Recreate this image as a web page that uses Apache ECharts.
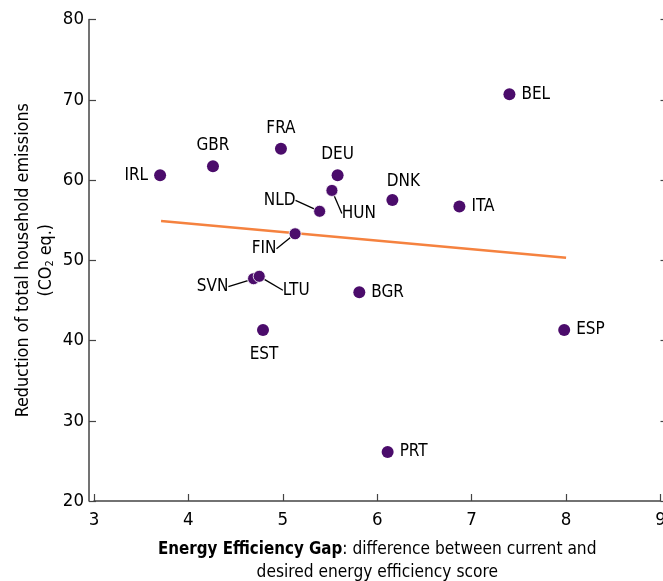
<!DOCTYPE html>
<html>
<head>
<meta charset="utf-8">
<script src="https://cdn.jsdelivr.net/npm/echarts@6/dist/echarts.min.js"></script>
<style>html,body{margin:0;padding:0;background:#fff}#c{width:663px;height:581px}</style>
</head>
<body>
<div id="c"></div>
<script>
// Data
var countries = ['BEL','IRL','GBR','FRA','DEU','DNK','ITA','BGR','EST','ESP','PRT'];
var gap       = [7.40, 3.70, 4.26, 4.98, 5.58, 6.16, 6.87, 5.81, 4.79, 7.98, 6.11];
var reduction = [70.7, 60.6, 61.7, 63.9, 60.6, 57.5, 56.7, 46.0, 41.3, 41.3, 26.1];
var labelPos  = ['right','left','top','top','top','top','right','right','bottom','right','right'];

// points labelled with leader lines
var leadCountries = ['NLD','HUN','FIN','SVN','LTU'];
var leadGap       = [5.39, 5.52, 5.13, 4.69, 4.75];
var leadReduction = [56.1, 58.7, 53.3, 47.7, 48.0];
var leadOffset    = [[-40,-11],[27,23],[-31,15],[-41,8],[37,14]];

// fitted trend line end points
var trendGap = [3.71, 8.00];
var trendReduction = [54.9, 50.3];

var xTicks = [3,4,5,6,7,8,9];
var yTicks = [20,30,40,50,60,70,80];

var FONT = '"Liberation Sans Narrow","DejaVu Sans Condensed","Liberation Sans",sans-serif';
var PURPLE = '#4b0c6b';
var TXT = '#000';

var mainData = countries.map(function(c,i){
  var item = {name:c, value:[gap[i], reduction[i]], label:{position:labelPos[i]}};
  if (c === 'DNK') item.label.offset = [11, 2];
  if (c === 'EST') item.label.offset = [1, 4];
  return item;
});
var leadData = leadCountries.map(function(c,i){ return {name:c, value:[leadGap[i], leadReduction[i]]}; });
var trendData = trendGap.map(function(g,i){ return [g, trendReduction[i]]; });

var chart = echarts.init(document.getElementById('c'));
chart.setOption({
  animation:false,
  backgroundColor:'#fff',
  textStyle:{fontFamily:FONT},
  grid:{left:94, right:2.5, top:19.5, bottom:80, containLabel:false, outerBoundsMode:'none'},
  xAxis:{
    type:'value', min:xTicks[0], max:xTicks[xTicks.length-1], interval:1,
    axisLine:{show:true, lineStyle:{color:'#444', width:1.5}},
    axisTick:{show:true, inside:true, length:7, lineStyle:{color:'#444', width:1.2}},
    axisLabel:{color:TXT, fontSize:18.5, fontFamily:FONT, margin:10},
    splitLine:{show:false},
    name:'{b|Energy Efficiency Gap}{r|: difference between current and}\n{r|desired energy efficiency score}',
    nameLocation:'middle', nameGap:37, nameMoveOverlap:false,
    nameTextStyle:{
      align:'center', lineHeight:23,
      rich:{
        b:{fontFamily:FONT, fontSize:16.8, fontWeight:'bold', color:TXT, lineHeight:23},
        r:{fontFamily:FONT, fontSize:17.2, color:TXT, lineHeight:23}
      }
    }
  },
  yAxis:[{
    type:'value', min:yTicks[0], max:yTicks[yTicks.length-1], interval:10,
    offset:5,
    axisLine:{show:true, lineStyle:{color:'#444', width:1.5}},
    axisTick:{show:true, inside:true, length:7, lineStyle:{color:'#444', width:1.2}},
    axisLabel:{color:TXT, fontSize:18.5, fontFamily:FONT, margin:5},
    splitLine:{show:false},
    name:'{r|Reduction of total household emissions}\n{r|(CO}{s|2}{r| eq.)}',
    nameLocation:'middle', nameGap:31, nameMoveOverlap:false,
    nameTextStyle:{
      align:'center', lineHeight:23,
      rich:{
        r:{fontFamily:FONT, fontSize:17.8, color:TXT, lineHeight:23},
        s:{fontFamily:FONT, fontSize:11, color:TXT, lineHeight:23, padding:[8,0,0,0]}
      }
    }
  },{
    type:'value', position:'right', min:yTicks[0], max:yTicks[yTicks.length-1], interval:10,
    axisLine:{show:false},
    axisTick:{show:true, inside:false, length:5, lineStyle:{color:'#444', width:1.2}},
    axisLabel:{show:false},
    splitLine:{show:false}
  }],
  series:[{
    type:'line', data:trendData, symbol:'none', silent:true,
    lineStyle:{color:'#f5823f', width:2.5}, z:1
  },{
    type:'scatter', data:mainData, symbolSize:12, z:3,
    itemStyle:{color:PURPLE, opacity:1},
    label:{show:true, formatter:'{b}', color:TXT, fontSize:17, fontFamily:FONT, distance:6}
  },{
    type:'scatter', data:leadData, symbolSize:12, z:3,
    itemStyle:{color:PURPLE, opacity:1, borderColor:'#fff', borderWidth:0.8},
    label:{show:true, formatter:'{b}', position:'inside', color:TXT, fontSize:17, fontFamily:FONT},
    labelLine:{show:true, lineStyle:{color:'#000', width:1.3}},
    labelLayout:function(p){ var o = leadOffset[p.dataIndex]; return {dx:o[0], dy:o[1]}; }
  }]
});
</script>
</body>
</html>
